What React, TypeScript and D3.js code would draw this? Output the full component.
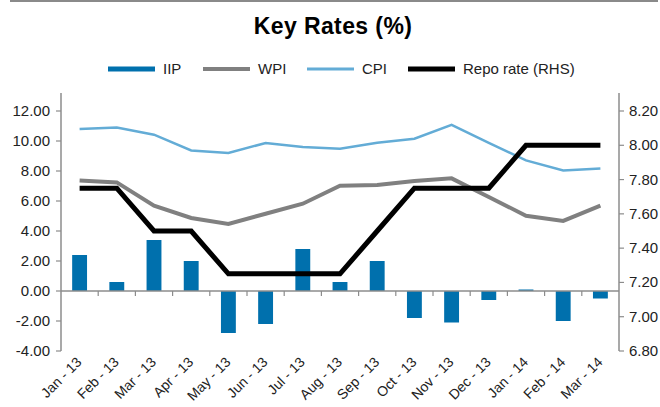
import React from "react";
import * as d3 from "d3";

const months = [
  "Jan - 13", "Feb - 13", "Mar - 13", "Apr - 13", "May - 13", "Jun - 13", "Jul - 13", "Aug - 13",
  "Sep - 13", "Oct - 13", "Nov - 13", "Dec - 13", "Jan - 14", "Feb - 14", "Mar - 14",
];
const iip = [2.4, 0.6, 3.4, 2.0, -2.8, -2.2, 2.8, 0.6, 2.0, -1.8, -2.1, -0.6, 0.1, -2.0, -0.5];
const wpi = [7.37, 7.24, 5.69, 4.87, 4.47, 5.15, 5.82, 7.02, 7.07, 7.33, 7.51, 6.27, 5.02, 4.67, 5.69];
const cpi = [10.8, 10.9, 10.42, 9.37, 9.2, 9.87, 9.6, 9.49, 9.89, 10.15, 11.07, 9.87, 8.71, 8.04, 8.17];
const repo = [7.75, 7.75, 7.5, 7.5, 7.25, 7.25, 7.25, 7.25, 7.5, 7.75, 7.75, 7.75, 8.0, 8.0, 8.0];
const leftTicks = [-4, -2, 0, 2, 4, 6, 8, 10, 12];
const rightTicks = [6.8, 7.0, 7.2, 7.4, 7.6, 7.8, 8.0, 8.2];

const font = "'Liberation Sans', Arial, Helvetica, sans-serif";
const axisColor = "#8c8c8c";
const colors = { iip: "#0070ad", wpi: "#808080", cpi: "#63acd6", repo: "#000000" };

export default function App() {
  const width = 660;
  const height = 407;
  const left = 61;
  const right = 619;
  const top = 93;

  const x = d3.scaleBand<string>().domain(months).range([left, right]);
  const yL = d3.scaleLinear().domain([-4, 12]).range([351, 111]);
  const yR = d3.scaleLinear().domain([6.8, 8.2]).range([351, 111]);
  const cx = (m: string) => (x(m) ?? 0) + x.bandwidth() / 2;
  const barW = x.bandwidth() * 0.4;

  const lineL = d3
    .line<number>()
    .x((_, i) => cx(months[i]))
    .y((d) => yL(d));
  const lineR = d3
    .line<number>()
    .x((_, i) => cx(months[i]))
    .y((d) => yR(d));

  const legend = [
    { label: "IIP", color: colors.iip, w: 5, x: 108 },
    { label: "WPI", color: colors.wpi, w: 4, x: 203 },
    { label: "CPI", color: colors.cpi, w: 3, x: 307 },
    { label: "Repo rate (RHS)", color: colors.repo, w: 5, x: 408 },
  ];

  return (
    <svg
      width={width}
      height={height}
      style={{ position: "absolute", left: 0, top: 0, background: "#fff" }}
      fontFamily={font}
    >
      <rect x={10} y={0} width={648} height={2} fill="#8a8a8a" />
      <text x={333} y={34} textAnchor="middle" fontSize={23} fontWeight="bold" letterSpacing={0.4} fill="#000">
        Key Rates (%)
      </text>

      {legend.map((l) => (
        <g key={l.label}>
          <line x1={l.x} x2={l.x + 47} y1={69} y2={69} stroke={l.color} strokeWidth={l.w} />
          <text x={l.x + 55} y={74} fontSize={15} fill="#222">
            {l.label}
          </text>
        </g>
      ))}

      {/* bars */}
      {iip.map((v, i) => (
        <rect
          key={i}
          x={cx(months[i]) - barW / 2}
          y={Math.min(yL(v), yL(0))}
          width={barW}
          height={Math.abs(yL(v) - yL(0))}
          fill={colors.iip}
        />
      ))}

      {/* zero axis */}
      <line x1={left} x2={right} y1={yL(0)} y2={yL(0)} stroke={axisColor} strokeWidth={1.5} />
      {months.slice(1).map((m) => (
        <line key={m} x1={x(m)} x2={x(m)} y1={yL(0)} y2={yL(0) + 5} stroke={axisColor} strokeWidth={1.2} />
      ))}

      {/* left axis */}
      <line x1={left} x2={left} y1={top} y2={yL(-4)} stroke={axisColor} strokeWidth={1.5} />
      {leftTicks.map((t) => (
        <g key={t}>
          <line x1={left - 5} x2={left} y1={yL(t)} y2={yL(t)} stroke={axisColor} strokeWidth={1.2} />
          <text x={50} y={yL(t) + 5} textAnchor="end" fontSize={15} fill="#222">
            {t.toFixed(2)}
          </text>
        </g>
      ))}

      {/* right axis */}
      <line x1={right} x2={right} y1={top} y2={yR(6.8)} stroke={axisColor} strokeWidth={1.5} />
      {rightTicks.map((t) => (
        <g key={t}>
          <line x1={right} x2={right + 5} y1={yR(t)} y2={yR(t)} stroke={axisColor} strokeWidth={1.2} />
          <text x={629} y={yR(t) + 5} fontSize={15} fill="#222">
            {t.toFixed(2)}
          </text>
        </g>
      ))}

      {/* lines */}
      <path d={lineL(cpi) ?? ""} fill="none" stroke={colors.cpi} strokeWidth={2.5} />
      <path d={lineL(wpi) ?? ""} fill="none" stroke={colors.wpi} strokeWidth={4} />
      <path d={lineR(repo) ?? ""} fill="none" stroke={colors.repo} strokeWidth={5} />

      {/* x labels */}
      {months.map((m) => (
        <text
          key={m}
          transform={`translate(${cx(m) + 3},${363}) rotate(-45)`}
          textAnchor="end"
          fontSize={14}
          fill="#222"
        >
          {m}
        </text>
      ))}
    </svg>
  );
}
